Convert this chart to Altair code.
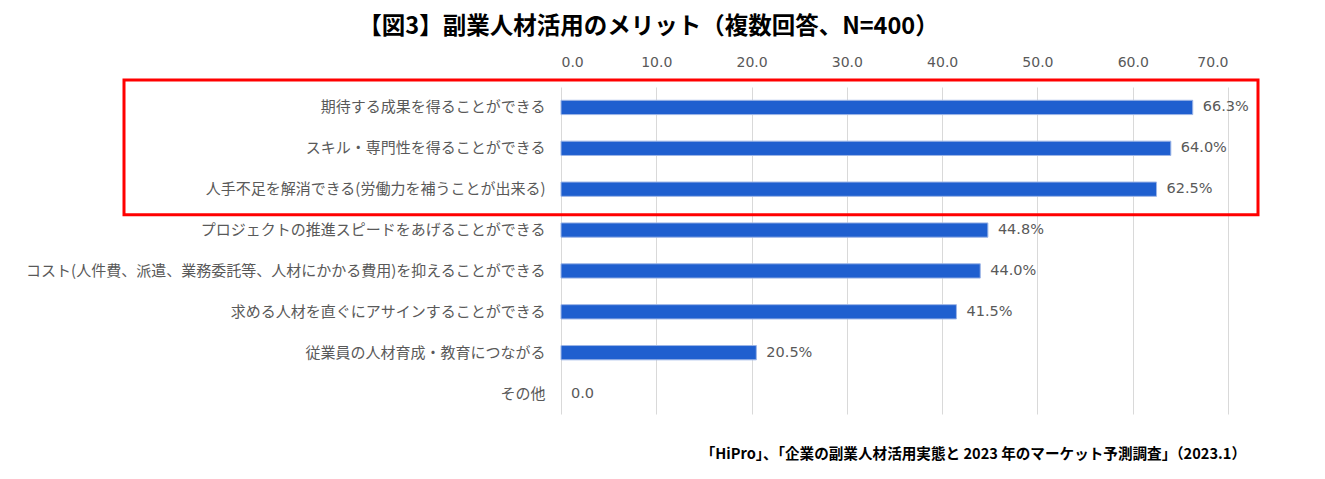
import altair as alt
import pandas as pd

categories = [
    "期待する成果を得ることができる",
    "スキル・専門性を得ることができる",
    "人手不足を解消できる(労働力を補うことが出来る)",
    "プロジェクトの推進スピードをあげることができる",
    "コスト(人件費、派遣、業務委託等、人材にかかる費用)を抑えることができる",
    "求める人材を直ぐにアサインすることができる",
    "従業員の人材育成・教育につながる",
    "その他",
]
values = [66.3, 64.0, 62.5, 44.8, 44.0, 41.5, 20.5, 0.0]
labels = [f"{v:.1f}%" if v > 0 else "0.0" for v in values]
x_ticks = [0, 10, 20, 30, 40, 50, 60, 70]
highlighted = categories[:3]

title_text = "【図3】副業人材活用のメリット（複数回答、N=400）"
source_text = "「HiPro」、「企業の副業人材活用実態と 2023 年のマーケット予測調査」（2023.1）"

df = pd.DataFrame({"cat": categories, "value": values, "label": labels})

W, H = 667, 327
step = H / len(categories)
JP = "Noto Sans CJK JP"
NUM = "DejaVu Sans"
GRAY = "#595959"

x_scale = alt.Scale(domain=[0, 70], nice=False)
y_enc = alt.Y("cat:N", sort=None, title=None,
              scale=alt.Scale(paddingInner=0.65, paddingOuter=0.325),
              axis=alt.Axis(labelFont=JP, labelFontSize=15, labelColor=GRAY,
                            labelPadding=16, domain=False, ticks=False,
                            labelLimit=700))

bars = alt.Chart(df).mark_bar(color="#1F5FCF", stroke="#9DB5E6", strokeWidth=1).encode(
    x=alt.X("value:Q", scale=x_scale, title=None,
            axis=alt.Axis(orient="top", values=x_ticks, format=".1f",
                          labelFont=NUM, labelFontSize=14,
                          labelColor=GRAY, domain=False, ticks=False, tickSize=0,
                          labelPadding=18, grid=True, gridColor="#D9D9D9",
                          gridWidth=1)),
    y=y_enc,
    strokeOpacity=alt.condition("datum.value > 0", alt.value(1), alt.value(0)),
)

text = alt.Chart(df).mark_text(align="left", baseline="middle", dx=10,
                               font=NUM, fontSize=14.5, color=GRAY).encode(
    x=alt.X("value:Q", scale=x_scale),
    y=alt.Y("cat:N", sort=None),
    text="label:N",
)

n_hi = len(highlighted)
box = alt.Chart(pd.DataFrame({"k": [0]})).mark_rect(
    fill=None, stroke="#FF0000", strokeWidth=3).encode(
    x=alt.value(-437), x2=alt.value(W + 30),
    y=alt.value(-7), y2=alt.value(step * n_hi + 5),
)

source = alt.Chart(pd.DataFrame({"t": [source_text]})).mark_text(
    align="right", baseline="middle", font=JP, fontSize=14.6, fontWeight="bold",
    color="#000000").encode(
    x=alt.value(W + 18), y=alt.value(H + 41), text="t:N")

chart = alt.layer(bars, text, box, source).properties(
    width=W, height=H,
    title=alt.TitleParams(title_text, font=JP, fontSize=23.5, fontWeight="bold",
                          color="#000000", anchor="middle", frame="group",
                          dx=-246, offset=17),
    padding={"left": 553, "top": 79, "right": 89, "bottom": 57},
    autosize=alt.AutoSizeParams(type="none"),
    background="#FFFFFF",
).configure_view(stroke=None)

chart.save("out.html", embed_options={"renderer": "svg", "actions": False})
